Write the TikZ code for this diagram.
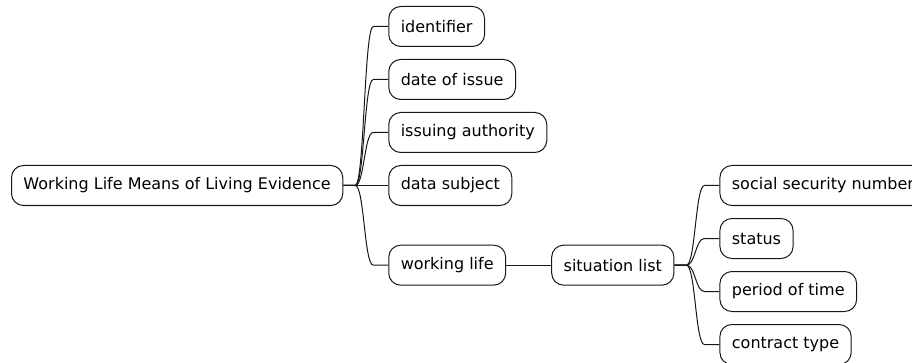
\documentclass[tikz,border=0pt]{standalone}
\usepackage{fontspec}
\setmainfont{DejaVu Sans}
\usepackage{tikz}
\usetikzlibrary{positioning}
\definecolor{stroke}{HTML}{181818}

\begin{document}
\begin{tikzpicture}[x=0.75pt,y=-0.75pt,every node/.style={block},
        block/.style={draw=stroke,fill=white,line width=0.75pt,rounded corners=9pt,minimum height=30pt,
                      inner xsep=9pt,inner ysep=0pt,font=\fontsize{12pt}{14pt}\selectfont},
        link/.style={draw=stroke,line width=0.75pt,
                     to path={-- ++(9pt,0) .. controls +(6.75pt,0) and +(-6.75pt,0) .. ([xshift=-11.25pt]\tikztotarget.west) -- (\tikztotarget.west)}}]
   \useasboundingbox[fill=white] (0,0) rectangle (912,363);
   \node (A) [anchor=west] at (11,185.5) {Working Life Means of Living Evidence};
   \node (E) [right=33.75pt of A] {data subject};
   \node (D) [above=9pt of E.north west,anchor=south west] {issuing authority};
   \node (C) [above=9pt of D.north west,anchor=south west] {date of issue};
   \node (B) [above=9pt of C.north west,anchor=south west] {identifier};
   \node (F) [below=29pt of E.south west,anchor=north west] {working life};
   \node (G) [right=33.75pt of F] {situation list};
   \node (H) [anchor=west,xshift=33.75pt] at (G.east |- E) {social security number};
   \node (I) [below=9pt of H.south west,anchor=north west] {status};
   \node (J) [below=9pt of I.south west,anchor=north west] {period of time};
   \node (K) [below=9pt of J.south west,anchor=north west] {contract type};
   \draw[link] (A.east) to (B);
   \draw[link] (A.east) to (C);
   \draw[link] (A.east) to (D);
   \draw[link] (A.east) to (E);
   \draw[link] (A.east) to (F);
   \draw[link] (F.east) to (G);
   \draw[link] (G.east) to (H);
   \draw[link] (G.east) to (I);
   \draw[link] (G.east) to (J);
   \draw[link] (G.east) to (K);
\end{tikzpicture}
\end{document}
